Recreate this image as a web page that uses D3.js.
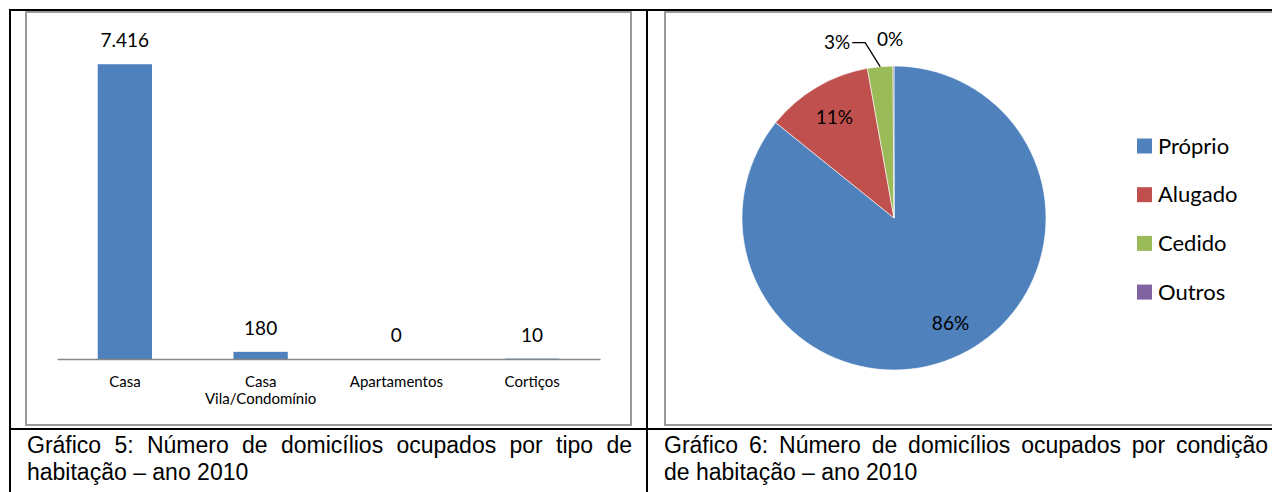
<!DOCTYPE html>
<html><head><meta charset="utf-8">
<script src="https://cdn.jsdelivr.net/npm/d3@7"></script>
<style>html,body{margin:0;padding:0;background:#fff;}svg{display:block;}</style>
</head><body>
<svg id="c" width="1272" height="492"></svg>
<script>
// Bar chart data (Gráfico 5)
const barCategories = [["Casa"], ["Casa", "Vila/Condomínio"], ["Apartamentos"], ["Cortiços"]];
const barValues = [7416, 180, 0, 10];
// Pie chart data (Gráfico 6), percent shares
const pieCategories = ["Próprio", "Alugado", "Cedido", "Outros"];
const pieValues = [85.8, 11.4, 2.7, 0.1];
const pieColors = ["#4F81BD", "#C0504D", "#9BBB59", "#8064A2"];
const caption5 = ["Gráfico 5: Número de domicílios ocupados por tipo de", "habitação – ano 2010"];
const caption6 = ["Gráfico 6: Número de domicílios ocupados por condição", "de habitação – ano 2010"];

const svg = d3.select("#c");
const labelFont = "Lato, 'Open Sans', sans-serif";

// ---- Table frames
const frame = svg.append("g");
frame.append("rect").attr("x", 26).attr("y", 12).attr("width", 605).attr("height", 413)
  .attr("fill", "none").attr("stroke", "#9a9a9a").attr("stroke-width", 2);
frame.append("rect").attr("x", 665).attr("y", 12).attr("width", 700).attr("height", 413)
  .attr("fill", "none").attr("stroke", "#9a9a9a").attr("stroke-width", 2);
const blk = (x1,y1,x2,y2)=>frame.append("line").attr("x1",x1).attr("y1",y1).attr("x2",x2).attr("y2",y2)
  .attr("stroke","#000").attr("stroke-width",2);
blk(9, 10, 1272, 10);
blk(10, 9, 10, 492);
blk(647, 9, 647, 492);
blk(9, 429, 1272, 429);

// ---- Bar chart
const x = d3.scaleBand().domain(d3.range(barValues.length)).range([57, 600]).paddingInner(0.6).paddingOuter(0.3);
const y = d3.scaleLinear().domain([0, 8000]).range([359, 41]);
const fmt = d3.formatLocale({decimal: ",", thousands: ".", grouping: [3], currency: ["R$", ""]}).format(",d");

const bars = svg.append("g");
bars.selectAll("rect").data(barValues).join("rect")
  .attr("x", (d,i)=>x(i)).attr("width", x.bandwidth())
  .attr("y", d=>y(d)).attr("height", d=>y(0)-y(d))
  .attr("fill", "#4F81BD");
bars.selectAll("text.v").data(barValues).join("text").attr("class","v")
  .attr("x", (d,i)=>x(i)+x.bandwidth()/2).attr("y", d=>y(d)-17)
  .attr("text-anchor","middle").attr("font-family", labelFont).attr("font-size", 19).attr("fill","#000")
  .text(d=>fmt(d));
const xAxis = d3.axisBottom(x).tickSize(0).tickFormat("");
const ax = svg.append("g").attr("transform", `translate(0,${y(0)})`).call(xAxis);
ax.select(".domain").attr("stroke", "#868686").attr("stroke-width", 1.5);
ax.selectAll(".tick").each(function(d){
  const t = d3.select(this).append("text").attr("fill","#000").attr("text-anchor","middle")
    .attr("font-family", labelFont).attr("font-size", 15).attr("y", 28);
  barCategories[d].forEach((s,j)=>t.append("tspan").attr("x",0).attr("dy", j===0?0:17).text(s));
});

// ---- Pie chart
const cx = 894, cy = 218, r = 152;
const pie = d3.pie().sort(null).value(d=>d)(pieValues);
const arc = d3.arc().innerRadius(0).outerRadius(r);
const pg = svg.append("g").attr("transform", `translate(${cx},${cy})`);
pg.selectAll("path").data(pie).join("path").attr("d", arc).attr("fill", (d,i)=>pieColors[i])
  .attr("stroke", "#fff").attr("stroke-width", 0.6);
const labArc = d3.arc().innerRadius(r*0.77).outerRadius(r*0.77);
const pctText = d=>Math.round(d.data) + "%";
pg.selectAll("text.in").data(pie.slice(0,2)).join("text").attr("class","in")
  .attr("transform", (d,i)=>{ const c = labArc.centroid(d); return `translate(${c[0]+(i===0?6:0)},${c[1]})`; })
  .attr("dy", "0.35em")
  .attr("text-anchor","middle").attr("font-family", labelFont).attr("font-size", 19).text(pctText);
// outside labels for small slices
const c3 = pie[2], c4 = pie[3];
const mid3 = (c3.startAngle + c3.endAngle)/2;
const px = r*Math.sin(mid3), py = -r*Math.cos(mid3);
pg.append("path").attr("d", `M${px},${py}L${px-15},${py-24}L${px-28},${py-24}`)
  .attr("fill","none").attr("stroke","#000").attr("stroke-width",1.3);
pg.append("text").attr("x", px-30).attr("y", py-24).attr("dy","0.35em").attr("text-anchor","end")
  .attr("font-family", labelFont).attr("font-size", 19).text(pctText(c3));
pg.append("text").attr("x", -17).attr("y", py-27).attr("dy","0.35em").attr("text-anchor","start")
  .attr("font-family", labelFont).attr("font-size", 19).text(pctText(c4));

// Legend
const lg = svg.append("g").attr("transform","translate(1137,146)");
const items = lg.selectAll("g").data(pieCategories).join("g").attr("transform",(d,i)=>`translate(0,${i*48.7})`);
items.append("rect").attr("x",0).attr("y",-7.5).attr("width",15).attr("height",15).attr("fill",(d,i)=>pieColors[i]);
items.append("text").attr("x",21).attr("dy","0.35em").attr("font-family", labelFont).attr("font-size",22).text(d=>d);

// ---- Captions (justified first line)
const capFont = "'Liberation Sans', Arial, sans-serif";
function caption(lines, x0, x1, yb){
  lines.forEach((line, li)=>{
    const yy = yb + li*27;
    const words = line.split(" ");
    if (li === lines.length-1) {
      svg.append("text").attr("x", x0).attr("y", yy).attr("font-family", capFont)
        .attr("font-size", 23).text(line);
      return;
    }
    const ts = words.map(w=>svg.append("text").attr("y", yy).attr("font-family", capFont)
      .attr("font-size", 23).text(w));
    const widths = ts.map(t=>t.node().getComputedTextLength());
    const total = d3.sum(widths);
    let gap = (x1 - x0 - total)/(words.length-1);
    let sx = 1;
    if (gap < 4) { sx = (x1 - x0 - 4*(words.length-1))/total; gap = 4; }
    let cur = x0;
    ts.forEach((t,i)=>{
      t.attr("x", cur/sx).attr("transform", sx===1?null:`scale(${sx},1)`);
      cur += widths[i]*sx + gap;
    });
  });
}
caption(caption5, 27, 632, 453);
caption(caption6, 664, 1268, 453);
</script>
</body></html>
